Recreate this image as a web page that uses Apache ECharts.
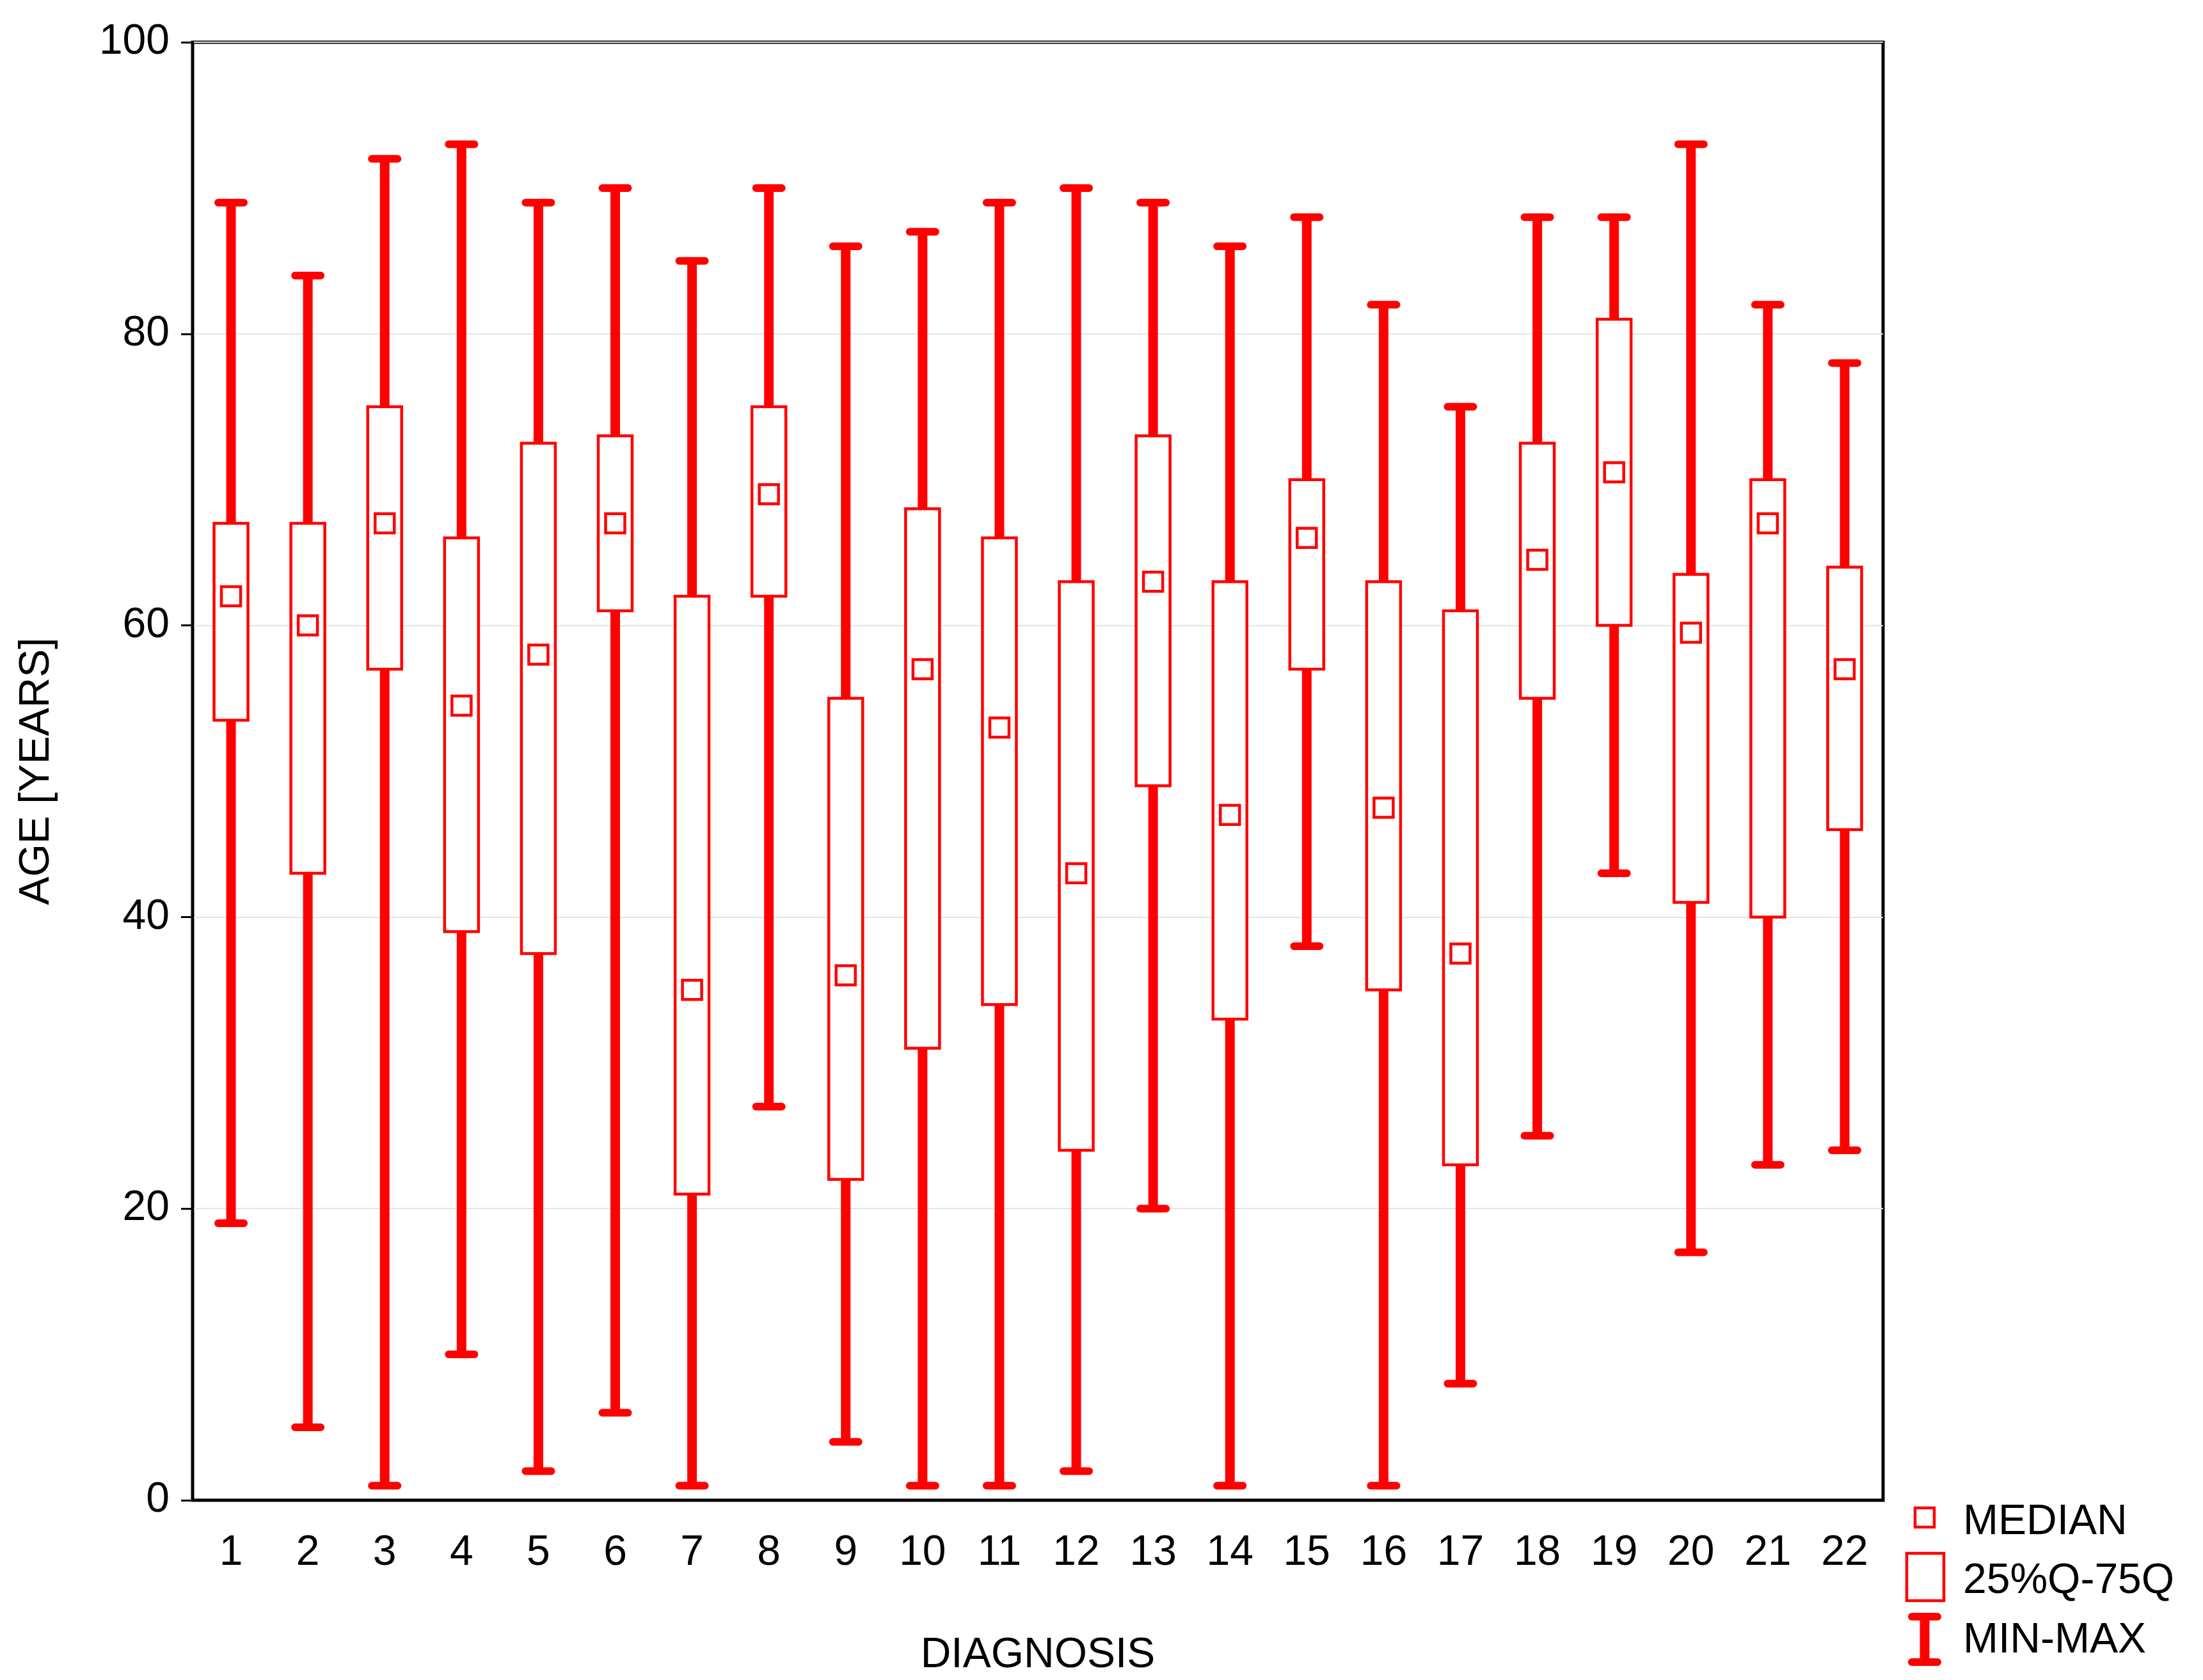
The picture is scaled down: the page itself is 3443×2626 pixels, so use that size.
<!DOCTYPE html>
<html>
<head>
<meta charset="utf-8">
<script src="https://cdn.jsdelivr.net/npm/echarts@6/dist/echarts.min.js"></script>
<style>html,body{margin:0;padding:0;background:#fff}#c{width:3443px;height:2626px}</style>
</head>
<body>
<div id="c"></div>
<script>
var diagnoses = ['1','2','3','4','5','6','7','8','9','10','11','12','13','14','15','16','17','18','19','20','21','22'];
var minAge = [19, 5, 1, 10, 2, 6, 1, 27, 4, 1, 1, 2, 20, 1, 38, 1, 8, 25, 43, 17, 23, 24];
var q1Age = [53.5, 43, 57, 39, 37.5, 61, 21, 62, 22, 31, 34, 24, 49, 33, 57, 35, 23, 55, 60, 41, 40, 46];
var medianAge = [62, 60, 67, 54.5, 58, 67, 35, 69, 36, 57, 53, 43, 63, 47, 66, 47.5, 37.5, 64.5, 70.5, 59.5, 67, 57];
var q3Age = [67, 67, 75, 66, 72.5, 73, 62, 75, 55, 68, 66, 63, 73, 63, 70, 63, 61, 72.5, 81, 63.5, 70, 64];
var maxAge = [89, 84, 92, 93, 89, 90, 85, 90, 86, 87, 89, 90, 89, 86, 88, 82, 75, 88, 88, 93, 82, 78];

var RED = '#ff0000';
var FONT = 'Liberation Sans, Arial, sans-serif';
var FS = 66;

var chart = echarts.init(document.getElementById('c'));

var rows = diagnoses.map(function (d, i) {
  return [i, minAge[i], q1Age[i], medianAge[i], q3Age[i], maxAge[i]];
});

function renderBox(params, api) {
  var i = api.value(0);
  var pMin = api.coord([i, api.value(1)]);
  var pQ1 = api.coord([i, api.value(2)]);
  var pMed = api.coord([i, api.value(3)]);
  var pQ3 = api.coord([i, api.value(4)]);
  var pMax = api.coord([i, api.value(5)]);
  var x = pMin[0];
  var bw = 53, cap = 40, sq = 30;
  var thick = { stroke: RED, lineWidth: 15 };
  return {
    type: 'group',
    children: [
      { type: 'line', shape: { x1: x, y1: pMin[1], x2: x, y2: pQ1[1] }, style: thick },
      { type: 'line', shape: { x1: x, y1: pQ3[1], x2: x, y2: pMax[1] }, style: thick },
      { type: 'line', shape: { x1: x - cap / 2, y1: pMin[1], x2: x + cap / 2, y2: pMin[1] }, style: { stroke: RED, lineWidth: 12, lineCap: 'round' } },
      { type: 'line', shape: { x1: x - cap / 2, y1: pMax[1], x2: x + cap / 2, y2: pMax[1] }, style: { stroke: RED, lineWidth: 12, lineCap: 'round' } },
      { type: 'rect', shape: { x: x - bw / 2, y: pQ3[1], width: bw, height: pQ1[1] - pQ3[1] }, style: { fill: '#fff', stroke: RED, lineWidth: 4.5 } },
      { type: 'rect', shape: { x: x - sq / 2, y: pMed[1] - sq / 2, width: sq, height: sq }, style: { fill: '#fff', stroke: RED, lineWidth: 4.5 } }
    ]
  };
}

var option = {
  backgroundColor: '#fff',
  animation: false,
  grid: { left: 301, right: 500, top: 66, bottom: 281, show: true, borderColor: '#000', borderWidth: 5 },
  xAxis: {
    type: 'category',
    data: diagnoses,
    name: 'DIAGNOSIS',
    nameLocation: 'middle',
    nameGap: 210,
    nameTextStyle: { fontFamily: FONT, fontSize: FS, color: '#000' },
    axisLine: { lineStyle: { color: '#000', width: 4 } },
    axisTick: { alignWithLabel: true, length: 18, lineStyle: { color: '#000', width: 3 } },
    axisLabel: { fontFamily: FONT, fontSize: FS, color: '#000', margin: 50 }
  },
  yAxis: {
    type: 'value',
    min: 0, max: 100, interval: 20,
    name: 'AGE [YEARS]',
    nameLocation: 'middle',
    nameGap: 210,
    nameTextStyle: { fontFamily: FONT, fontSize: FS, color: '#000' },
    axisLine: { show: true, lineStyle: { color: '#000', width: 4 } },
    axisTick: { show: true, length: 18, lineStyle: { color: '#000', width: 3 } },
    axisLabel: { fontFamily: FONT, fontSize: FS, color: '#000', margin: 36 },
    splitLine: { lineStyle: { color: '#e4e4e4', width: 2 } }
  },
  series: [{
    type: 'custom',
    renderItem: renderBox,
    encode: { x: 0, y: [1, 2, 3, 4, 5] },
    data: rows,
    clip: false
  }],
  graphic: [
    { type: 'rect', shape: { x: 2993, y: 2357, width: 30, height: 30 }, style: { fill: '#fff', stroke: RED, lineWidth: 4.5 } },
    { type: 'text', x: 3068, y: 2380, style: { text: 'MEDIAN', fontFamily: FONT, fontSize: FS, fill: '#000', textVerticalAlign: 'middle' } },
    { type: 'rect', shape: { x: 2980, y: 2428, width: 58, height: 74 }, style: { fill: '#fff', stroke: RED, lineWidth: 4.5 } },
    { type: 'text', x: 3068, y: 2472, style: { text: '25%Q-75Q', fontFamily: FONT, fontSize: FS, fill: '#000', textVerticalAlign: 'middle' } },
    { type: 'line', shape: { x1: 3008, y1: 2527, x2: 3008, y2: 2598 }, style: { stroke: RED, lineWidth: 15 } },
    { type: 'line', shape: { x1: 2988, y1: 2527, x2: 3028, y2: 2527 }, style: { stroke: RED, lineWidth: 12, lineCap: 'round' } },
    { type: 'line', shape: { x1: 2988, y1: 2598, x2: 3028, y2: 2598 }, style: { stroke: RED, lineWidth: 12, lineCap: 'round' } },
    { type: 'text', x: 3068, y: 2565, style: { text: 'MIN-MAX', fontFamily: FONT, fontSize: FS, fill: '#000', textVerticalAlign: 'middle' } }
  ]
};

chart.setOption(option);
</script>
</body>
</html>
